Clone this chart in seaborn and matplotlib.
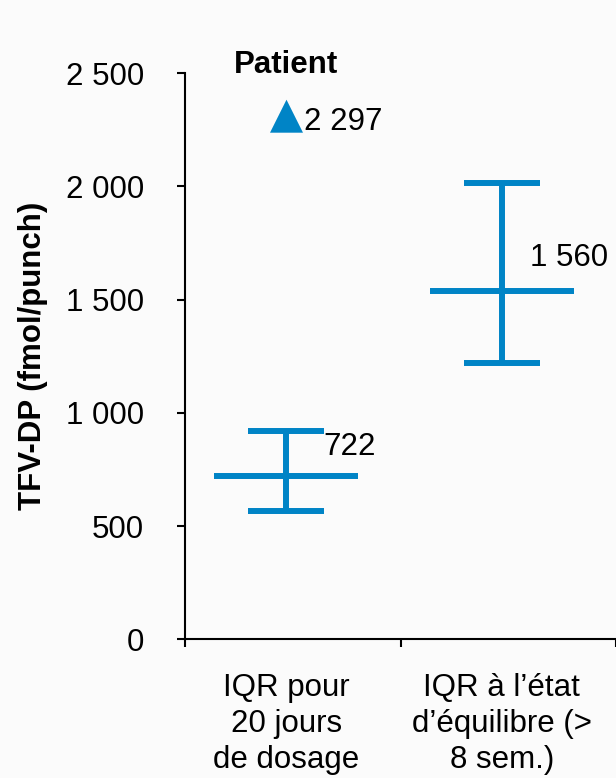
import numpy as np
import pandas as pd
import matplotlib
matplotlib.use("Agg")
import matplotlib.pyplot as plt
import seaborn as sns

# ---- data ----
categories = ["IQR pour\n20 jours\nde dosage", "IQR à l\u2019état\nd\u2019équilibre (>\n8 sem.)"]
medians = [722, 1540]
q1 = [566, 1220]
q3 = [920, 2015]
median_labels = ["722", "1 560"]
patient_value = 2297
patient_label = "2 297"
yticks = [0, 500, 1000, 1500, 2000, 2500]
ytick_labels = ["0", "500", "1 000", "1 500", "2 000", "2 500"]

BLUE = "#0084C6"
BG = "#fbfbfb"

sns.set_theme(style="white")
plt.rcParams["font.family"] = ["Liberation Sans", "DejaVu Sans"]

fig = plt.figure(figsize=(6.16, 7.78), dpi=100, facecolor=BG)
ax = fig.add_axes([0.3003, 0.1783, 0.70, 0.7275])
ax.set_facecolor(BG)

df = pd.DataFrame({"cat": categories, "median": medians, "q1": q1, "q3": q3})
xpos = np.arange(len(categories))

# whiskers + caps
ax.errorbar(xpos, df["median"], yerr=[df["median"] - df["q1"], df["q3"] - df["median"]],
            fmt="none", ecolor=BLUE, elinewidth=4.3, capsize=27.7, capthick=4.3, zorder=3)
# median line
sns.scatterplot(x=xpos, y=df["median"], marker="_", s=104**2, color=BLUE,
                linewidth=4.3, ax=ax, zorder=4, legend=False)

# patient triangle
tri = [(-1, -0.8), (1, -0.8), (0, 1.2)]
sns.scatterplot(x=[xpos[0]], y=[patient_value], marker=tri, s=28.5**2, color=BLUE,
                linewidth=0, ax=ax, zorder=5, legend=False)

fs = 22.5
ax.annotate(patient_label, (xpos[0], patient_value), xytext=(18, -3),
            textcoords="offset pixels", ha="left", va="center", fontsize=fs, color="black")
ax.annotate("Patient", (xpos[0], patient_value), xytext=(0, 54),
            textcoords="offset pixels", ha="center", va="center", fontsize=fs,
            fontweight="bold", color="black", annotation_clip=False)
offsets = [(37, 29), (28, 33)]
for x, m, lab, off in zip(xpos, medians, median_labels, offsets):
    ax.annotate(lab, (x, m), xytext=off, textcoords="offset pixels",
                ha="left", va="center", fontsize=fs, color="black")

ax.set_xlim(-0.47, 1.53)
ax.set_ylim(0, 2500)
ax.set_yticks(yticks)
ax.set_yticklabels(ytick_labels, fontsize=fs, color="black")
ax.set_xticks(xpos)
ax.set_xticklabels(categories, fontsize=fs, linespacing=1.27, color="black")
ax.set_xticks([-0.47, 0.53, 1.53], minor=True)
ax.tick_params(axis="x", which="major", length=0, pad=24)
ax.tick_params(axis="x", which="minor", length=5.5, width=1.5, direction="out", color="black", bottom=True)
ax.tick_params(axis="y", which="major", length=5.5, width=1.5, direction="out", color="black", left=True, pad=24)
ax.set_ylabel("TFV-DP (fmol/punch)", fontsize=fs, fontweight="bold", labelpad=13, color="black")
ax.set_xlabel("")

for s in ["top", "right"]:
    ax.spines[s].set_visible(False)
for s in ["left", "bottom"]:
    ax.spines[s].set_color("black")
    ax.spines[s].set_linewidth(1.5)
ax.grid(False)

fig.savefig("out.png", dpi=100, facecolor=BG)
